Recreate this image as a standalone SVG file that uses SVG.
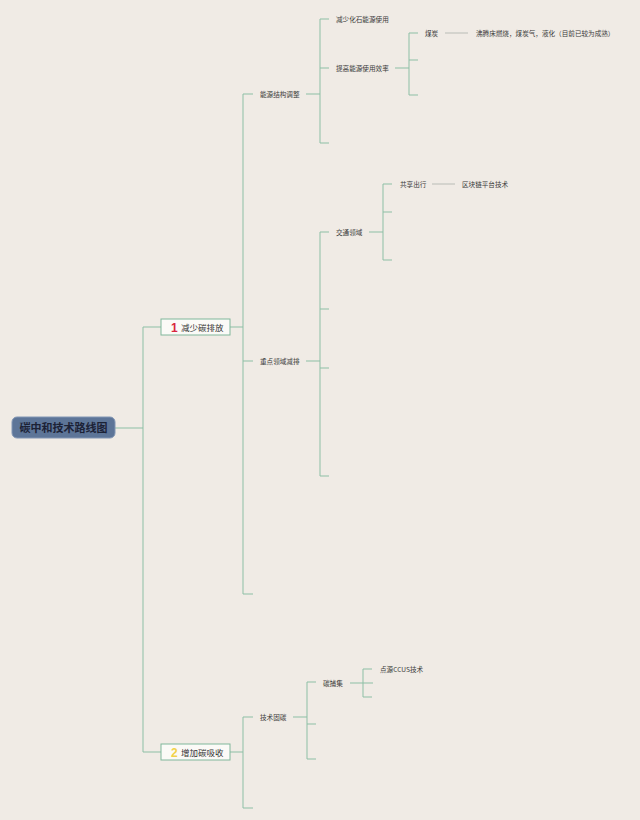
<svg xmlns="http://www.w3.org/2000/svg" width="640" height="820" viewBox="0 0 640 820">
<style>
.t{font-family:"Noto Sans CJK SC","Noto Sans",sans-serif;font-size:6.6px;fill:#3a3a3a}
.c{fill:none;stroke:#8dbfa5;stroke-width:1}
.g{fill:none;stroke:#b9bcb6;stroke-width:1}
.box{fill:#fbfaf7;stroke:#80b79b;stroke-width:1}
.bt{font-family:"Noto Sans CJK SC","Noto Sans",sans-serif;font-size:8.5px;fill:#333}
</style>
<rect width="640" height="820" fill="#f0ebe5"/>
<g id="connectors">
<path class="c" d="M115 428H143M143 327V752M143 327H161M143 752H161"/>
<path class="c" d="M230 327H243M243 94V594M243 94H253M243 361H253M243 594H253"/>
<path class="c" d="M306 94H320M320 19V143M320 19H329M320 68H329M320 143H329"/>
<path class="c" d="M395 68H409M409 33V95M409 33H418M409 60H418M409 95H418"/>
<path class="g" d="M445 33H468"/>
<path class="c" d="M306 361H320M320 232V476M320 232H329M320 309H329M320 368H329M320 476H329"/>
<path class="c" d="M369 232H383M383 184V260M383 184H392M383 212H392M383 260H392"/>
<path class="g" d="M432 184H455"/>
<path class="c" d="M230 752H243M243 717V808M243 717H253M243 808H253"/>
<path class="c" d="M293 717H307M307 682V759M307 682H316M307 724H316M307 759H316"/>
<path class="c" d="M350 683H373M363 669V697M363 669H372M363 697H372"/>
</g>
<g id="root">
<rect x="12" y="417" width="103" height="21" rx="5" fill="#5d7598" stroke="#8296b4" stroke-width="1"/>
<text x="63.5" y="431.5" text-anchor="middle" font-family="Noto Sans CJK SC,sans-serif" font-size="11" font-weight="bold" fill="#1c2236">碳中和技术路线图</text>
</g>
<g id="n1">
<rect class="box" x="161" y="319" width="69" height="16"/>
<text x="171" y="331.5" font-family="Liberation Sans,sans-serif" font-size="12" font-weight="bold" fill="#d8263f">1</text>
<text class="bt" x="181" y="330.5">减少碳排放</text>
</g>
<g id="n2">
<rect class="box" x="161" y="744" width="69" height="16"/>
<text x="171" y="756.5" font-family="Liberation Sans,sans-serif" font-size="12" font-weight="bold" fill="#f2d24a">2</text>
<text class="bt" x="181" y="755.5">增加碳吸收</text>
</g>
<g id="n-energy"><text class="t" x="260" y="96.5">能源结构调整</text></g>
<g id="n-fossil"><text class="t" x="336" y="21.5">减少化石能源使用</text></g>
<g id="n-eff"><text class="t" x="336" y="70.5">提高能源使用效率</text></g>
<g id="n-coal"><text class="t" x="425" y="35.5">煤炭</text></g>
<g id="n-coal-tech"><text class="t" x="476" y="35.5">沸腾床燃烧，煤炭气，液化（目前已较为成熟）</text></g>
<g id="n-key"><text class="t" x="260" y="363.5">重点领域减排</text></g>
<g id="n-traffic"><text class="t" x="336" y="234.5">交通领域</text></g>
<g id="n-share"><text class="t" x="400" y="186.5">共享出行</text></g>
<g id="n-chain"><text class="t" x="462" y="186.5">区块链平台技术</text></g>
<g id="n-tech"><text class="t" x="260" y="719.5">技术固碳</text></g>
<g id="n-capture"><text class="t" x="323" y="685.5">碳捕集</text></g>
<g id="n-ccus"><text class="t" x="380" y="671.5">点源CCUS技术</text></g>
</svg>
